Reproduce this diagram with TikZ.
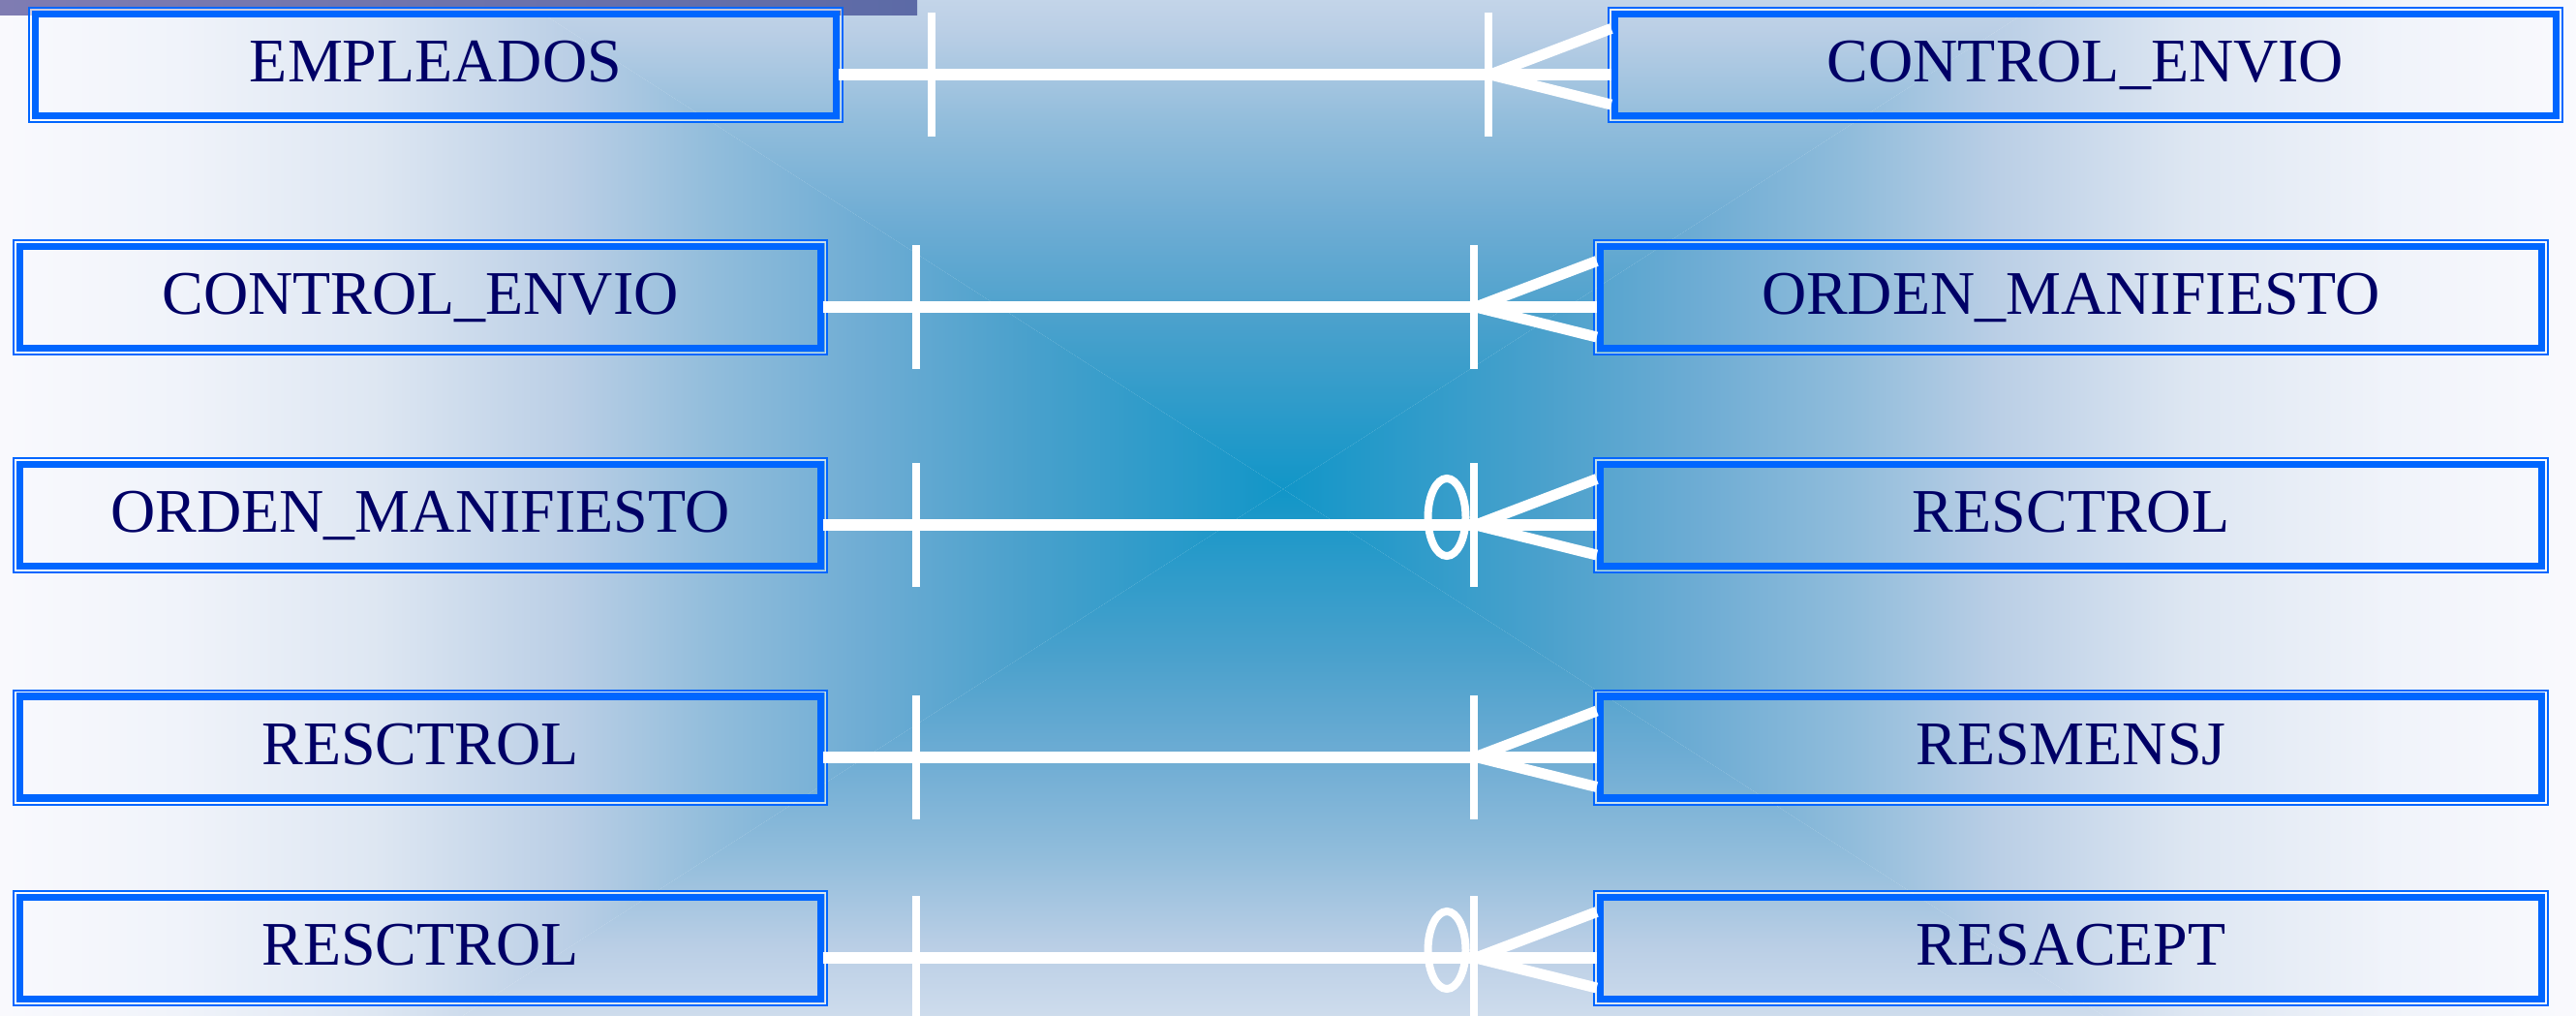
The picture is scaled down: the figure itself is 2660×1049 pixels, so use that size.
\documentclass[tikz,border=0pt]{standalone}
\usepackage{fontspec}
\setmainfont{Liberation Serif}
\usetikzlibrary{calc}

\definecolor{boxblue}{RGB}{0,102,255}
\definecolor{navy}{RGB}{0,0,102}
\definecolor{barL}{RGB}{127,124,178}
\definecolor{barR}{RGB}{92,106,166}

% white at 25bp -> centre colour at 75bp
\pgfdeclarehorizontalshading{shL}{100bp}{rgb(0bp)=(.98,.98,.995); rgb(25bp)=(.98,.98,.995); rgb(32.5bp)=(.94,.953,.98); rgb(40bp)=(.87,.905,.95); rgb(47.5bp)=(.73,.81,.90); rgb(53bp)=(.57,.74,.86); rgb(59bp)=(.43,.675,.83); rgb(65bp)=(.29,.63,.80); rgb(75bp)=(.07,.588,.784); rgb(100bp)=(.07,.588,.784)}
% centre colour at 25bp -> white at 75bp
\pgfdeclarehorizontalshading{shR}{100bp}{rgb(0bp)=(.07,.588,.784); rgb(25bp)=(.07,.588,.784); rgb(35bp)=(.29,.63,.80); rgb(41bp)=(.43,.675,.83); rgb(47bp)=(.57,.74,.86); rgb(52.5bp)=(.73,.81,.90); rgb(60bp)=(.87,.905,.95); rgb(67.5bp)=(.94,.953,.98); rgb(75bp)=(.98,.98,.995); rgb(100bp)=(.98,.98,.995)}
\pgfdeclareverticalshading{svTop}{100bp}{rgb(0bp)=(.07,.588,.784); rgb(25bp)=(.07,.588,.784); rgb(35bp)=(.29,.63,.80); rgb(41bp)=(.43,.675,.83); rgb(47bp)=(.57,.74,.86); rgb(52.5bp)=(.73,.81,.90); rgb(60bp)=(.87,.905,.95); rgb(67.5bp)=(.94,.953,.98); rgb(75bp)=(.98,.98,.995); rgb(100bp)=(.98,.98,.995)}
\pgfdeclareverticalshading{svBot}{100bp}{rgb(0bp)=(.98,.98,.995); rgb(25bp)=(.98,.98,.995); rgb(32.5bp)=(.94,.953,.98); rgb(40bp)=(.87,.905,.95); rgb(47.5bp)=(.73,.81,.90); rgb(53bp)=(.57,.74,.86); rgb(59bp)=(.43,.675,.83); rgb(65bp)=(.29,.63,.80); rgb(75bp)=(.07,.588,.784); rgb(100bp)=(.07,.588,.784)}

\tikzset{
  ebox/.style={draw=boxblue, line width=3.75pt, inner sep=0pt, outer sep=0pt,
    minimum height=52.5pt, text=navy, font=\fontsize{32pt}{38pt}\selectfont,
    text height=21.1pt, text depth=3.2pt},
  thinb/.style={draw=boxblue, line width=1pt},
  gapb/.style={draw=white, draw opacity=0.6, line width=0.75pt},
  conn/.style={draw=white, line width=6pt},
  crossbar/.style={draw=white, line width=4pt},
  prong/.style={draw=white, line width=5.5pt},
  zeromark/.style={draw=white, line width=4pt},
}

\newcommand\erbox[5]{%
  \node[ebox, minimum width=#4] (#1) at (#2,#3) {#5};
  \draw[thinb] ([shift={(-3.25pt,3.25pt)}]#1.north west) rectangle ([shift={(3.25pt,-3.25pt)}]#1.south east);
  \draw[gapb] ([shift={(-2.375pt,2.375pt)}]#1.north west) rectangle ([shift={(2.375pt,-2.375pt)}]#1.south east);
}

\newcommand\relat[3]{%
  \coordinate (#1s) at ([xshift=1pt,yshift=-5pt]#1.east);
  \coordinate (#2e) at ([xshift=-1.875pt,yshift=-5pt]#2.west);
  \draw[conn] (#1s) -- (#2e);
  \draw[crossbar] ([shift={(48.25pt,32pt)}]#1s) -- ([shift={(48.25pt,-32pt)}]#1s);
  \draw[crossbar] ([shift={(-63.375pt,32pt)}]#2e) -- ([shift={(-63.375pt,-32pt)}]#2e);
  \draw[prong] ([shift={(0pt,23.75pt)}]#2e) -- ([xshift=-62.5pt]#2e);
  \draw[prong] ([shift={(0pt,-15.5pt)}]#2e) -- ([xshift=-62.5pt]#2e);
  \ifnum#3=1 \draw[zeromark] ([shift={(-77.375pt,4pt)}]#2e) ellipse [x radius=9.75pt, y radius=20pt];\fi
}

\begin{document}
\begin{tikzpicture}[x=0.5pt,y=-0.5pt]
\useasboundingbox (0,0) rectangle (2660,1049);
\begin{scope}
  \clip (0,0) rectangle (2660,1049);
  \def\bgcx{1325}\def\bgcy{505}\def\bgA{1340}\def\bgB{860}
  \fill[white] (0,0) rectangle (2660,1049);
  \shade[shading=shL] (\bgcx,\bgcy) -- (\bgcx-\bgA,\bgcy-\bgB) -- (\bgcx-\bgA,\bgcy+\bgB) -- cycle;
  \shade[shading=shR] (\bgcx,\bgcy) -- (\bgcx+\bgA,\bgcy-\bgB) -- (\bgcx+\bgA,\bgcy+\bgB) -- cycle;
  \shade[shading=svTop] (\bgcx,\bgcy) -- (\bgcx-\bgA,\bgcy-\bgB) -- (\bgcx+\bgA,\bgcy-\bgB) -- cycle;
  \shade[shading=svBot] (\bgcx,\bgcy) -- (\bgcx-\bgA,\bgcy+\bgB) -- (\bgcx+\bgA,\bgcy+\bgB) -- cycle;
  \shade[left color=barL, right color=barR] (0,0) rectangle (947,15);
\end{scope}

\erbox{L1}{450}{67}{413.5pt}{EMPLEADOS}
\erbox{R1}{2153.5}{67}{486pt}{CONTROL\_ENVIO}
\erbox{L2}{434}{307}{413.5pt}{CONTROL\_ENVIO}
\erbox{R2}{2138.5}{307}{486pt}{ORDEN\_MANIFIESTO}
\erbox{L3}{434}{532}{413.5pt}{ORDEN\_MANIFIESTO}
\erbox{R3}{2138.5}{532}{486pt}{RESCTROL}
\erbox{L4}{434}{771.5}{413.5pt}{RESCTROL}
\erbox{R4}{2138.5}{771.5}{486pt}{RESMENSJ}
\erbox{L5}{434}{979}{413.5pt}{RESCTROL}
\erbox{R5}{2138.5}{979}{486pt}{RESACEPT}

\relat{L1}{R1}{0}
\relat{L2}{R2}{0}
\relat{L3}{R3}{1}
\relat{L4}{R4}{0}
\relat{L5}{R5}{1}
\end{tikzpicture}
\end{document}
